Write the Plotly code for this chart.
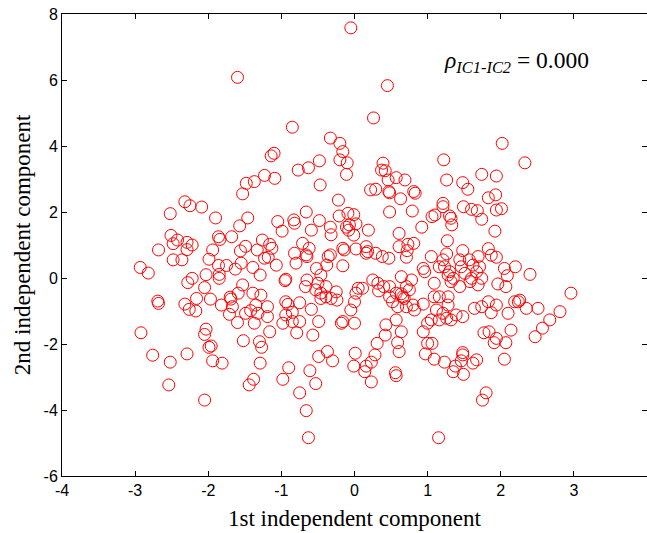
import plotly.graph_objects as go

# 1st independent component (x) and 2nd independent component (y)
ic1 = [-1.48,-1.53,-2.32,-2.25,-2.09,-2.52,-1.90,-1.46,-1.57,-2.51,-2.48,-2.42,-2.29,-2.22,-2.29,-2.68,
       -1.86,-1.84,-1.68,-1.49,-1.56,-1.94,-2.48,-2.36,-1.99,-1.86,-1.75,-1.55,-1.63,-2.93,-2.82,-2.03,
       -1.85,-1.85,-2.22,-2.28,-1.53,-2.05,-1.59,-2.16,-1.97,-1.70,-1.69,-2.69,-2.68,-2.32,-2.26,-2.17,
       -1.82,-1.67,-1.49,-1.71,-1.60,-2.92,-2.03,-2.05,-1.52,-1.42,
       -1.14,-1.10,-0.16,-0.20,-0.10,-0.48,-0.63,-0.77,-0.11,-1.23,-1.09,-1.37,-0.47,0.39,0.37,0.42,
       0.57,0.69,0.46,0.22,0.29,0.47,0.48,0.81,0.83,0.63,-0.22,1.10,1.06,0.48,0.79,-0.66,-0.09,-0.01,
       -1.05,-0.83,-0.82,-0.99,-0.48,-0.21,-0.07,0.02,-0.08,-0.01,-0.11,-0.33,-0.32,-0.59,0.19,0.61,0.92,
       -1.26,-1.16,-1.13,-1.33,-1.18,-1.23,-1.07,-1.39,-0.71,-0.62,-0.82,-0.80,-0.65,-0.66,-0.16,-0.14,
       0.02,0.16,0.18,0.16,0.29,0.38,0.47,-0.36,-0.33,-0.38,-0.16,-0.46,-0.52,0.61,0.73,0.81,0.71,0.72,
       1.05,0.94,0.96,1.09,-1.29,-0.94,-0.95,-0.65,-0.67,-0.50,-0.53,-0.46,-0.39,-0.25,0.25,0.32,0.40,
       0.48,0.33,0.64,0.78,0.71,0.75,0.05,0.11,0.02,-1.39,-1.28,-1.19,-1.32,-1.37,-1.19,-1.35,-0.94,
       -0.91,-0.75,-0.85,-0.94,-0.98,-0.85,-0.75,-0.59,-0.49,-0.39,-0.46,-0.32,-0.24,-0.05,0.00,0.00,
       -0.18,-0.16,0.48,0.57,0.64,0.66,0.68,0.52,0.59,0.71,0.80,0.82,0.94,1.09,1.12,1.05,0.94,1.00,
       0.57,0.43,0.42,0.31,0.64,-1.16,-1.30,-0.79,-0.57,1.00,1.06,
       1.22,2.33,1.74,1.94,1.26,1.48,1.55,1.83,1.93,1.21,1.21,1.49,1.60,1.68,1.94,2.01,1.74,1.30,1.32,
       1.33,1.92,1.27,1.26,1.48,1.83,1.87,1.94,1.69,1.44,1.57,1.23,1.30,1.46,1.62,1.71,1.67,1.51,1.60,
       1.74,1.35,1.28,1.32,1.44,1.58,1.69,1.21,1.16,2.05,2.20,2.09,1.96,2.07,2.40,2.96,1.16,1.28,1.28,
       1.21,1.26,1.32,1.39,1.48,1.16,1.64,1.74,1.83,1.94,1.87,2.10,2.19,2.26,2.24,2.35,2.51,2.81,2.67,
       2.57,1.77,1.84,2.14,2.47,1.94,1.91,2.07,
       -2.76,-2.52,-2.29,-2.54,-2.05,-1.96,-1.99,-1.94,-1.81,-1.38,-1.44,-1.29,-1.27,-0.98,-0.90,-0.75,
       -0.66,-0.63,-0.61,-0.53,-0.49,-0.37,-0.30,0.01,-0.01,0.14,0.16,0.23,0.28,0.23,0.56,0.57,0.61,
       0.97,1.09,1.15,0.59,1.23,1.35,1.38,1.49,1.46,1.48,1.48,1.62,1.67,2.05,1.80,1.75,
       -0.05,-1.60,0.45,0.26,-0.85,-0.33,-0.20,2.02]

ic2 = [2.87,2.55,2.31,2.19,2.15,1.95,1.82,1.82,1.58,1.29,1.04,1.15,1.08,1.00,0.86,0.85,
       1.25,1.17,1.25,0.96,0.82,0.85,0.55,0.55,0.57,0.38,0.38,0.45,0.27,0.32,0.15,0.10,
       0.11,-0.01,-0.01,-0.14,-0.21,-0.29,-0.46,-0.62,-0.64,-0.58,-0.64,-0.70,-0.77,-0.79,-0.95,-1.00,
       -0.82,-0.87,-1.07,-1.10,-1.35,-1.66,-1.55,-1.71,-1.90,-0.99,
       3.70,3.78,3.83,3.58,3.49,3.55,3.34,3.27,3.14,3.11,3.02,2.92,2.82,3.48,3.27,3.25,
       3.04,2.97,2.97,2.67,2.69,2.62,2.58,2.62,2.57,2.40,2.36,1.91,1.86,2.00,2.03,2.00,1.96,1.92,
       1.71,1.76,1.66,1.42,1.74,1.88,1.61,1.64,1.45,1.30,1.54,1.54,1.31,1.45,1.45,1.35,1.54,
       1.15,1.02,0.90,0.85,0.63,0.60,0.39,0.32,1.05,0.90,0.75,0.45,0.65,0.70,0.90,0.85,
       0.88,0.95,0.80,0.75,0.75,0.65,0.60,0.65,0.70,0.39,0.37,0.09,0.29,0.95,1.02,1.05,0.63,0.83,
       0.65,0.29,0.19,-0.16,0.09,-0.04,-0.08,-0.06,-0.26,-0.16,-0.36,-0.46,-0.26,-0.42,-0.06,-0.16,-0.26,
       -0.26,-0.39,0.04,-0.06,-0.26,-0.36,-0.31,-0.31,-0.46,-0.46,-0.52,-0.87,-1.07,-1.37,-1.17,-0.82,-0.72,
       -0.80,-0.75,-1.04,-1.12,-1.37,-1.32,-1.32,-0.95,-1.32,-0.57,-0.62,-0.62,-0.67,-0.97,-0.72,-1.37,
       -1.37,-1.32,-0.57,-0.46,-0.48,-0.57,-0.62,-0.72,-0.87,-0.87,-0.82,-0.97,-0.79,-0.57,-0.97,-1.27,-1.63,-1.37,
       -1.27,-1.42,-1.73,-1.98,-1.63,-1.63,-1.93,-1.66,-1.73,-1.98,-1.98,
       3.58,3.49,3.14,3.09,2.97,2.89,2.69,2.43,2.52,2.26,2.16,2.16,2.08,2.04,2.06,2.10,1.78,1.88,1.81,
       1.61,1.42,1.13,0.73,0.83,0.89,0.69,0.63,0.65,0.55,0.55,0.34,0.19,0.34,0.39,0.34,0.19,0.14,-0.01,
       -0.01,-0.01,0.09,-0.11,-0.26,-0.11,-0.21,0.55,0.34,0.29,0.34,0.07,-0.18,-0.26,0.11,-0.46,-0.57,-0.57,-0.82,
       -1.07,-1.22,-1.27,-1.12,-1.17,-1.27,-0.92,-0.87,-0.72,-0.82,-1.05,-1.07,-0.72,-0.67,-0.72,-0.92,-0.92,-1.02,-1.27,
       -1.52,-1.66,-1.63,-1.58,-1.78,-1.83,-1.96,-1.96,
       -2.34,-2.55,-2.30,-3.24,-3.70,-2.06,-2.10,-2.51,-2.58,-3.07,-3.24,-2.58,-2.10,-3.07,-2.72,-3.48,
       -4.02,-4.84,-2.81,-3.20,-2.38,-2.23,-2.51,-2.28,-2.67,-2.84,-2.67,-2.55,-2.33,-3.15,-2.87,-2.96,-2.23,
       -2.30,-2.46,-4.84,-1.96,-2.55,-2.84,-2.67,-2.92,-2.51,-2.26,-2.33,-2.58,-2.48,-2.46,-3.48,-3.70,
       7.58,6.08,5.83,4.85,4.57,4.24,4.08,4.08]

x_ticks = [-4, -3, -2, -1, 0, 1, 2, 3, 4]
y_ticks = [-6, -4, -2, 0, 2, 4, 6, 8]
x_label = "1st independent component"
y_label = "2nd independent component"
corr_text = "<i>ρ</i><sub><i>IC1-IC2</i></sub> = 0.000"

fig = go.Figure()
fig.add_trace(go.Scatter(
    x=ic1, y=ic2, mode="markers",
    marker=dict(symbol="circle-open", size=12, color="#ff0000", line=dict(width=1, color="#ff0000")),
    hoverinfo="skip", showlegend=False))

axis_common = dict(showline=True, linecolor="black", linewidth=1, mirror="ticks",
                   ticks="inside", ticklen=5, tickcolor="black", tickwidth=1,
                   showgrid=False, zeroline=False,
                   tickfont=dict(family="Liberation Sans, Arial, sans-serif", size=16, color="black"))

fig.update_xaxes(range=[-4, 4], tickvals=x_ticks, ticktext=[str(v) for v in x_ticks], **axis_common)
fig.update_yaxes(range=[-6, 8], tickvals=y_ticks, ticktext=[str(v) for v in y_ticks], **axis_common)

serif = "Liberation Serif, Times New Roman, serif"
fig.update_layout(
    width=647, height=533,
    margin=dict(l=62, r=0, t=14, b=57),
    plot_bgcolor="white", paper_bgcolor="white",
    annotations=[
        dict(text=x_label, xref="paper", yref="paper", x=0.5, y=-0.093,
             xanchor="center", yanchor="middle", showarrow=False,
             font=dict(family=serif, size=23, color="black")),
        dict(text=y_label, xref="paper", yref="paper", x=-0.068, y=0.5,
             xanchor="center", yanchor="middle", textangle=-90, showarrow=False,
             font=dict(family=serif, size=23, color="black")),
        dict(text=corr_text, xref="paper", yref="paper", x=0.649, y=0.897,
             xanchor="left", yanchor="middle", showarrow=False,
             font=dict(family=serif, size=23.5, color="black")),
    ],
)

fig.write_html("out.html")
